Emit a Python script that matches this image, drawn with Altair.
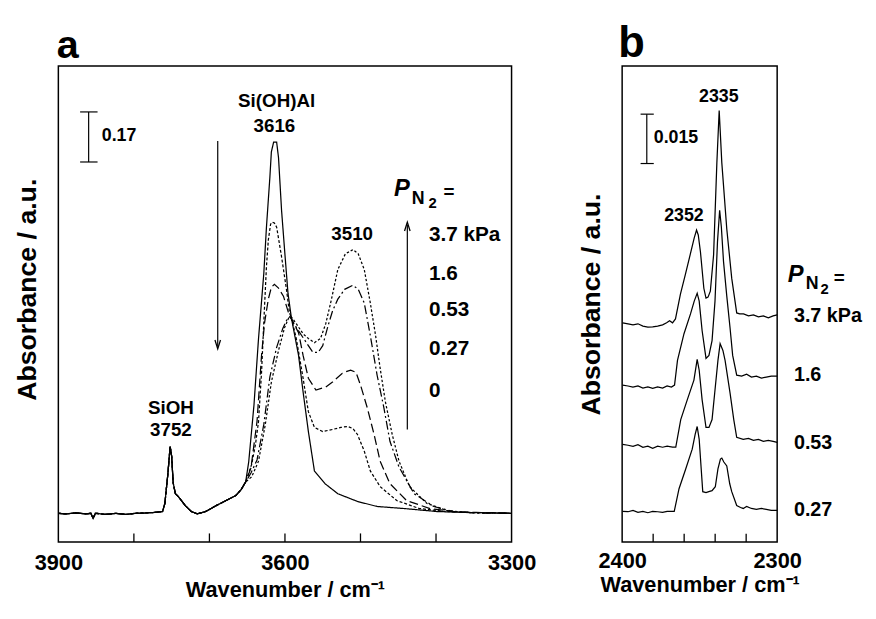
import altair as alt
import pandas as pd

FONT = "Liberation Sans"

# ------------------------------------------------------------------ panel a data
# part shared by every spectrum (curves coincide up to ~3652 cm-1)
COMMON_WN = [3900, 3890, 3877, 3863, 3857, 3854, 3851, 3837, 3824, 3811, 3798, 3785, 3772, 3762,
             3759, 3755, 3752, 3750, 3748, 3745, 3741, 3732, 3724, 3716, 3705, 3691, 3678, 3665,
             3658, 3652]
COMMON_A = [0.097, 0.095, 0.098, 0.095, 0.097, 0.080, 0.097, 0.093, 0.097, 0.093, 0.097, 0.098,
            0.100, 0.103, 0.130, 0.230, 0.323, 0.290, 0.200, 0.163, 0.153, 0.123, 0.103, 0.095,
            0.103, 0.123, 0.140, 0.157, 0.177, 0.203]

P0_WN = [3648, 3641, 3635, 3628, 3624.5, 3620, 3618, 3615, 3611, 3608.5, 3604.5, 3600, 3596,
         3591.5, 3582, 3576, 3569, 3561, 3547, 3530, 3504, 3478, 3442, 3399, 3364, 3300]
P0_A = [0.27, 0.463, 0.687, 0.907, 1.063, 1.23, 1.317, 1.35, 1.35, 1.297, 1.12, 0.97, 0.84,
        0.757, 0.63, 0.507, 0.373, 0.24, 0.197, 0.163, 0.137, 0.12, 0.113, 0.103, 0.1, 0.097]

P027_WN = [3644, 3639, 3635, 3631, 3627, 3624.5, 3622, 3619, 3617, 3614, 3611, 3604.5, 3598, 3594,
           3591.5, 3585, 3576, 3569, 3561, 3550, 3537, 3526, 3517, 3510, 3504, 3495, 3487, 3474,
           3452, 3422, 3386, 3360, 3300]
P027_A = [0.263, 0.33, 0.407, 0.573, 0.797, 0.93, 1.02, 1.073, 1.08, 1.077, 1.063, 0.963, 0.853,
          0.773, 0.757, 0.687, 0.553, 0.44, 0.387, 0.373, 0.38, 0.387, 0.39, 0.383, 0.363, 0.307,
          0.24, 0.187, 0.14, 0.113, 0.103, 0.1, 0.097]

P053_WN = [3645, 3637, 3631, 3627, 3622, 3618, 3614, 3608.5, 3602, 3594, 3591.5, 3582, 3576, 3569,
           3559, 3546, 3537, 3524, 3517, 3513, 3506, 3500, 3491, 3482, 3474, 3461, 3439, 3408,
           3377, 3347, 3300]
P053_A = [0.25, 0.407, 0.63, 0.74, 0.82, 0.86, 0.87, 0.857, 0.83, 0.763, 0.753, 0.707, 0.63,
          0.553, 0.513, 0.523, 0.54, 0.57, 0.577, 0.58, 0.573, 0.53, 0.453, 0.363, 0.273, 0.197,
          0.14, 0.113, 0.103, 0.1, 0.097]

P16_WN = [3645, 3637, 3628, 3620, 3611, 3603, 3597, 3593, 3588, 3582, 3569, 3563, 3556, 3550,
          3543, 3537, 3530, 3521, 3510, 3503, 3495, 3487, 3478, 3469, 3461, 3449, 3429, 3403,
          3377, 3347, 3300]
P16_A = [0.233, 0.277, 0.397, 0.557, 0.657, 0.72, 0.753, 0.76, 0.737, 0.713, 0.663, 0.64, 0.64,
         0.663, 0.73, 0.78, 0.82, 0.853, 0.867, 0.853, 0.807, 0.697, 0.563, 0.453, 0.34, 0.253,
         0.163, 0.12, 0.103, 0.098, 0.097]

P37_WN = [3644, 3635, 3626, 3618, 3608.5, 3600.6, 3595, 3591.5, 3585, 3576, 3569, 3561, 3553,
          3546, 3539, 3530, 3520, 3510, 3503, 3495, 3487, 3480, 3474, 3467, 3458, 3449, 3435,
          3412, 3386, 3364, 3300]
P37_A = [0.22, 0.273, 0.397, 0.54, 0.647, 0.723, 0.757, 0.76, 0.737, 0.703, 0.687, 0.673, 0.687,
         0.737, 0.813, 0.92, 0.973, 0.987, 0.973, 0.92, 0.807, 0.697, 0.587, 0.473, 0.363, 0.273,
         0.187, 0.13, 0.107, 0.1, 0.097]

SERIES_A = ["0", "0.27", "0.53", "1.6", "3.7"]
DASHES_A = [[1, 0], [3, 2], [9, 4], [9, 3, 2, 3], [2.5, 2]]

TICKS_A = [3800, 3700, 3600, 3500, 3400]
TICKLABELS_A = [3900, 3600, 3300]

PEAK_A_LABELS = ["Si(OH)Al", "3616", "3510", "SiOH", "3752"]
PEAK_A_WN = [3611, 3614, 3511, 3751, 3751]
PEAK_A_Y = [1.49, 1.405, 1.04, 0.453, 0.377]

PRESS_A_LABELS = ["3.7 kPa", "1.6", "0.53", "0.27", "0"]
PRESS_A_WN = 3409.4
PRESS_A_Y = [1.037, 0.903, 0.783, 0.65, 0.508]

# ------------------------------------------------------------------ panel b data
B37_WN = [2399.7, 2396.2, 2393.0, 2389.8, 2386.6, 2383.4, 2380.3, 2377.1, 2373.9, 2371.3, 2369.4,
          2367.5, 2365.6, 2362.4, 2359.2, 2356.1, 2353.5, 2352.0, 2350.9, 2349.5, 2347.3, 2345.9,
          2344.6, 2343.1, 2341.0, 2338.9, 2337.4, 2335.7, 2332.5, 2329.3, 2326.1, 2324.2, 2321.7,
          2318.5, 2315.3, 2312.1, 2308.9, 2305.7, 2302.6, 2300.0]
B37_A = [0.0666, 0.0663, 0.0660, 0.0663, 0.0656, 0.0653, 0.0654, 0.0656, 0.0660, 0.0666, 0.0672,
         0.0666, 0.0678, 0.0753, 0.0813, 0.0873, 0.0924, 0.0948, 0.0933, 0.0882, 0.0771, 0.0741,
         0.0744, 0.0762, 0.0873, 0.1152, 0.1311, 0.1152, 0.0951, 0.0801, 0.0696, 0.0693, 0.0693,
         0.0687, 0.0690, 0.0684, 0.0687, 0.0681, 0.0687, 0.0690]

B16_WN = [2399.7, 2396.2, 2393.0, 2389.8, 2386.6, 2383.4, 2380.3, 2377.1, 2373.9, 2371.0, 2368.2,
          2366.2, 2364.3, 2360.1, 2355.9, 2353.5, 2351.6, 2350.3, 2348.4, 2345.9, 2344.0, 2342.0,
          2340.1, 2338.5, 2337.1, 2336.0, 2334.6, 2332.5, 2330.4, 2328.7, 2326.1, 2322.9, 2319.7,
          2316.6, 2313.4, 2310.2, 2307.0, 2303.8, 2300.0]
B16_A = [0.0477, 0.0474, 0.0471, 0.0474, 0.0468, 0.0471, 0.0467, 0.0471, 0.0468, 0.0474, 0.0471,
         0.0477, 0.0552, 0.0633, 0.0693, 0.0732, 0.0756, 0.0732, 0.0642, 0.0558, 0.0567, 0.0612,
         0.0732, 0.0912, 0.1008, 0.0957, 0.0852, 0.0747, 0.0651, 0.0567, 0.0507, 0.0504, 0.0510,
         0.0501, 0.0504, 0.0498, 0.0501, 0.0504, 0.0504]

B053_WN = [2399.7, 2396.2, 2393.0, 2389.8, 2386.6, 2383.4, 2380.3, 2377.1, 2373.9, 2371.0, 2367.5,
           2365.4, 2362.2, 2358.0, 2353.7, 2351.6, 2350.3, 2348.4, 2345.9, 2344.0, 2342.0, 2340.1,
           2338.2, 2336.8, 2335.0, 2333.6, 2330.4, 2328.0, 2326.1, 2321.9, 2318.5, 2315.3, 2312.1,
           2308.9, 2305.7, 2302.6, 2300.0]
B053_A = [0.0297, 0.0294, 0.0291, 0.0296, 0.0288, 0.0291, 0.0285, 0.0291, 0.0288, 0.0291, 0.0288,
          0.0288, 0.0372, 0.0432, 0.0492, 0.0555, 0.0522, 0.0432, 0.0348, 0.0348, 0.0372, 0.0462,
          0.0552, 0.0603, 0.0582, 0.0552, 0.0453, 0.0372, 0.0318, 0.0312, 0.0315, 0.0309, 0.0312,
          0.0306, 0.0309, 0.0306, 0.0303]

B027_WN = [2399.7, 2396.2, 2393.0, 2389.8, 2386.6, 2383.4, 2380.3, 2377.1, 2373.9, 2371.0, 2366.4,
           2363.3, 2359.0, 2354.8, 2352.9, 2351.6, 2350.3, 2349.0, 2348.0, 2345.9, 2344.1, 2342.0,
           2339.9, 2338.2, 2336.6, 2335.7, 2334.4, 2332.5, 2330.6, 2329.3, 2326.1, 2323.6, 2321.9,
           2319.7, 2316.6, 2313.4, 2310.2, 2307.0, 2303.8, 2300.0]
B027_A = [0.0093, 0.0092, 0.0096, 0.0090, 0.0093, 0.0089, 0.0093, 0.0092, 0.0090, 0.0093, 0.0093,
          0.0162, 0.0222, 0.0282, 0.0327, 0.0351, 0.0312, 0.0222, 0.0153, 0.0150, 0.0153, 0.0156,
          0.0168, 0.0222, 0.0252, 0.0255, 0.0243, 0.0231, 0.0177, 0.0153, 0.0111, 0.0105, 0.0102,
          0.0108, 0.0102, 0.0099, 0.0102, 0.0099, 0.0096, 0.0096]

TICKS_B = [2380, 2360, 2340, 2320]
TICKLABELS_B = [2400, 2300]

PEAK_B_LABELS = ["2335", "2352"]
PEAK_B_WN = [2337.6, 2360.1]
PEAK_B_Y = [0.1352, 0.099]

PRESS_B_LABELS = ["3.7 kPa", "1.6", "0.53", "0.27"]
PRESS_B_WN = 2289.2
PRESS_B_Y = [0.0685, 0.0506, 0.0302, 0.0097]

# ------------------------------------------------------------------ scales / axes
DOM_XA = [3900, 3300]
DOM_YA = [0, 1.6067]
DOM_XB = [2400, 2300]
DOM_YB = [0, 0.1446]


def x_axis(values, lp, tp):
    return alt.Axis(values=values, format="d", title="Wavenumber / cm⁻¹", labelFont=FONT,
                    labelFontSize=22, labelFontWeight="bold", labelColor="black",
                    labelPadding=lp, labelFlush=False, labelOverlap=False, ticks=False,
                    tickSize=0, domain=False, grid=False, titleFont=FONT, titleFontSize=22,
                    titleFontWeight="bold", titleColor="black", titlePadding=tp)


def y_axis(tp, ty=None):
    kw = {} if ty is None else {"titleY": ty}
    return alt.Axis(title="Absorbance / a.u.", labels=False, ticks=False, tickSize=0,
                    domain=False, grid=False, minExtent=0, titleFont=FONT, titleFontSize=27,
                    titleFontWeight="bold", titleColor="black", titlePadding=tp, **kw)


AXX_A = x_axis(TICKLABELS_A, 11, 6)
AXY_A = y_axis(17, 226)
AXX_B = x_axis(TICKLABELS_B, 9, 3)
AXY_B = y_axis(17)


def xa(f="wn"):
    return alt.X(f"{f}:Q", scale=alt.Scale(domain=DOM_XA, nice=False, zero=False), axis=AXX_A)


def ya(f="A"):
    return alt.Y(f"{f}:Q", scale=alt.Scale(domain=DOM_YA, nice=False, zero=False), axis=AXY_A)


def xb(f="wn"):
    return alt.X(f"{f}:Q", scale=alt.Scale(domain=DOM_XB, nice=False, zero=False), axis=AXX_B)


def yb(f="A"):
    return alt.Y(f"{f}:Q", scale=alt.Scale(domain=DOM_YB, nice=False, zero=False), axis=AXY_B)


def frame(name, wn, a):
    return pd.DataFrame({"series": name, "i": list(range(len(wn))), "wn": wn, "A": a})


def texts(labels, wns, ys, X, Y, size, align="left", style="normal", baseline="middle"):
    df = pd.DataFrame({"label": labels, "wn": wns, "A": ys})
    return alt.Chart(df).mark_text(font=FONT, fontWeight="bold", fontSize=size, align=align,
                                   baseline=baseline, fontStyle=style, color="black").encode(
        x=X(), y=Y(), text="label:N")


def vrule(wn, a1, a2, X, Y):
    df = pd.DataFrame({"wn": [wn], "A": [a1], "A2": [a2]})
    return alt.Chart(df).mark_rule(color="black", strokeWidth=1.2).encode(x=X(), y=Y(), y2="A2:Q")


def hrules(w1, w2, ys, X, Y):
    df = pd.DataFrame({"wn": [w1] * len(ys), "wn2": [w2] * len(ys), "A": ys})
    return alt.Chart(df).mark_rule(color="black", strokeWidth=1.2).encode(x=X(), x2="wn2:Q", y=Y())


def ticks(values, top, X, Y):
    df = pd.DataFrame({"wn": values, "A": [0] * len(values), "A2": [top] * len(values)})
    return alt.Chart(df).mark_rule(color="black", strokeWidth=1.3).encode(x=X(), y=Y(), y2="A2:Q")


def anchor(wn, a, X, Y):
    df = pd.DataFrame({"wn": [wn], "A": [a]})
    return alt.Chart(df).mark_point(filled=True, size=1, color="white", opacity=1).encode(x=X(), y=Y())


UP = "M-1.4,4.5L0,0L1.4,4.5"
DOWN = "M-1.4,-4.5L0,0L1.4,-4.5"


def head(wn, a, shape, X, Y):
    df = pd.DataFrame({"wn": [wn], "A": [a]})
    return alt.Chart(df).mark_point(shape=shape, filled=False, size=16, strokeWidth=1.3,
                                    color="black", opacity=1).encode(x=X(), y=Y())


# ------------------------------------------------------------------ panel a
tails = [(P0_WN, P0_A), (P027_WN, P027_A), (P053_WN, P053_A), (P16_WN, P16_A), (P37_WN, P37_A)]
df_a = pd.concat([frame(n, COMMON_WN + w, COMMON_A + v) for n, (w, v) in zip(SERIES_A, tails)],
                 ignore_index=True)

lines_a = alt.Chart(df_a).mark_line(color="black", strokeWidth=1.25).encode(
    x=xa(), y=ya(),
    strokeDash=alt.StrokeDash("series:N", scale=alt.Scale(domain=SERIES_A, range=DASHES_A),
                              legend=None),
    order="i:Q")

panel_a = alt.layer(
    anchor(3850, 1.7513, xa, ya),
    lines_a,
    ticks(TICKS_A, 0.029, xa, ya),
    vrule(3859.9, 1.452, 1.283, xa, ya),
    hrules(3871.2, 3848.1, [1.452, 1.283], xa, ya),
    vrule(3689, 1.354, 0.66, xa, ya),
    head(3689, 0.652, DOWN, xa, ya),
    vrule(3438, 0.38, 1.07, xa, ya),
    head(3438, 1.08, UP, xa, ya),
    texts(["a"], [3902], [1.6327], xa, ya, 40, baseline="alphabetic"),
    texts(PEAK_A_LABELS, PEAK_A_WN, PEAK_A_Y, xa, ya, 19, align="center"),
    texts(["0.17"], [3842.5], [1.37], xa, ya, 18),
    texts(PRESS_A_LABELS, [PRESS_A_WN] * 5, PRESS_A_Y, xa, ya, 21),
    texts(["P"], [3455.5], [1.192], xa, ya, 24, style="italic"),
    texts(["N"], [3432], [1.158], xa, ya, 18),
    texts(["2"], [3410], [1.143], xa, ya, 15),
    texts(["="], [3390], [1.18], xa, ya, 19),
).properties(width=459, height=482)

# ------------------------------------------------------------------ panel b
df_b = pd.concat([frame("3.7", B37_WN, B37_A), frame("1.6", B16_WN, B16_A),
                  frame("0.53", B053_WN, B053_A), frame("0.27", B027_WN, B027_A)],
                 ignore_index=True)

lines_b = alt.Chart(df_b).mark_line(color="black", strokeWidth=1.25).encode(
    x=xb(), y=yb(), detail="series:N", order="i:Q")

panel_b = alt.layer(
    anchor(2390, 0.15912, xb, yb),
    lines_b,
    ticks(TICKS_B, 0.0025, xb, yb),
    vrule(2384.1, 0.13, 0.115, xb, yb),
    hrules(2388.1, 2379.6, [0.13, 0.115], xb, yb),
    texts(["b"], [2402.5], [0.14736], xb, yb, 44, baseline="alphabetic"),
    texts(PEAK_B_LABELS, PEAK_B_WN, PEAK_B_Y, xb, yb, 18, align="center"),
    texts(["0.015"], [2379.6], [0.1227], xb, yb, 18),
    texts(PRESS_B_LABELS, [PRESS_B_WN] * 4, PRESS_B_Y, xb, yb, 20),
    texts(["P"], [2293.2], [0.0812], xb, yb, 24, style="italic"),
    texts(["N"], [2281.5], [0.0785], xb, yb, 18),
    texts(["2"], [2272.0], [0.077], xb, yb, 15),
    texts(["="], [2263.5], [0.0802], xb, yb, 19),
).properties(width=157, height=482)

chart = alt.hconcat(panel_a, panel_b, spacing=40).configure_view(stroke="black", strokeWidth=1.5)

chart.save("out.html", embed_options={"renderer": "svg", "actions": False})
